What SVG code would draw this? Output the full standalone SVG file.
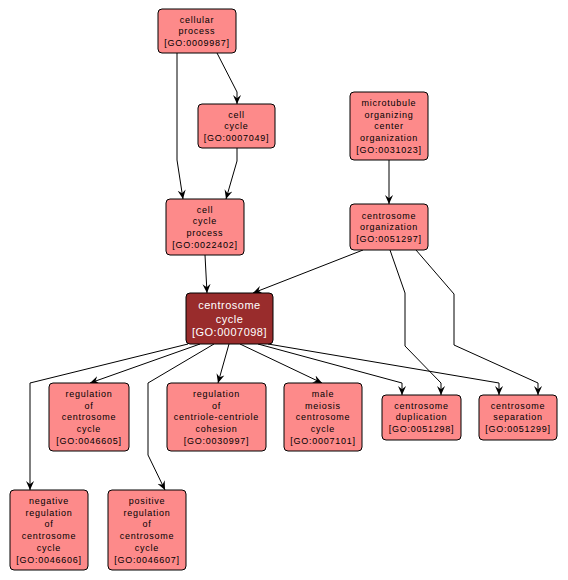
<svg xmlns="http://www.w3.org/2000/svg" width="568" height="580" viewBox="0 0 568 580">
<style>
.n rect{fill:#fd8a8a;stroke:#000;stroke-width:1}
.n text{font-family:"Liberation Sans",Arial,sans-serif;font-size:9px;letter-spacing:0.75px;fill:#000;text-anchor:middle}
#GO0007098 rect{fill:#992c2c}
#GO0007098 text{font-size:11px;letter-spacing:0.5px;fill:#fff}
.e path{fill:none;stroke:#000;stroke-width:1;marker-end:url(#ah)}
</style>
<defs>
<marker id="ah" viewBox="0 0 10 10" refX="10" refY="5" markerWidth="9" markerHeight="9" markerUnits="userSpaceOnUse" orient="auto">
<path d="M0,0.5 L10,5 L0,9.5 L3.5,5 z" fill="#000"/>
</marker>
</defs>
<rect width="568" height="580" fill="#fff"/>
<g class="e" id="edges">
<path d="M217,53 L237,92 L237,104"/>
<path d="M177,53 L177,160 L183,199"/>
<path d="M237,148 L237,161 L226,199"/>
<path d="M389,160 L389,204"/>
<path d="M205,255 L207,293"/>
<path d="M363,250 L253,293"/>
<path d="M390,250 L405,293 L405,346 L441,383 L441,395"/>
<path d="M416,250 L454,294 L454,345 L538,383 L538,395"/>
<path d="M188,344 L30,383 L30,490"/>
<path d="M200,344 L90,383"/>
<path d="M214,344 L148,383 L148,455 L165,490"/>
<path d="M229,344 L218,383"/>
<path d="M240,344 L322,383"/>
<path d="M258,344 L402,383 L402,395"/>
<path d="M268,344 L499,383 L499,395"/>
</g>
<g class="n" id="GO0009987"><rect x="158" y="9" width="78" height="44" rx="4"/><text y="22.5"><tspan x="197">cellular</tspan><tspan x="197" dy="11.8">process</tspan><tspan x="197" dy="11.8">[GO:0009987]</tspan></text></g>
<g class="n" id="GO0007049"><rect x="198" y="104" width="77" height="44" rx="4"/><text y="117.5"><tspan x="236.5">cell</tspan><tspan x="236.5" dy="11.8">cycle</tspan><tspan x="236.5" dy="11.8">[GO:0007049]</tspan></text></g>
<g class="n" id="GO0031023"><rect x="350" y="92" width="78" height="68" rx="4"/><text y="105.7"><tspan x="389">microtubule</tspan><tspan x="389" dy="11.8">organizing</tspan><tspan x="389" dy="11.8">center</tspan><tspan x="389" dy="11.8">organization</tspan><tspan x="389" dy="11.8">[GO:0031023]</tspan></text></g>
<g class="n" id="GO0051297"><rect x="350" y="204" width="78" height="46" rx="4"/><text y="218.5"><tspan x="389">centrosome</tspan><tspan x="389" dy="11.8">organization</tspan><tspan x="389" dy="11.8">[GO:0051297]</tspan></text></g>
<g class="n" id="GO0022402"><rect x="166" y="199" width="78" height="56" rx="4"/><text y="212.6"><tspan x="205">cell</tspan><tspan x="205" dy="11.8">cycle</tspan><tspan x="205" dy="11.8">process</tspan><tspan x="205" dy="11.8">[GO:0022402]</tspan></text></g>
<g class="n" id="GO0007098"><rect x="186" y="293" width="87" height="51" rx="4"/><text y="308.9"><tspan x="229.5">centrosome</tspan><tspan x="229.5" dy="13.6">cycle</tspan><tspan x="229.5" dy="13.6">[GO:0007098]</tspan></text></g>
<g class="n" id="GO0046605"><rect x="49" y="383" width="80" height="68" rx="4"/><text y="396.7"><tspan x="89">regulation</tspan><tspan x="89" dy="11.8">of</tspan><tspan x="89" dy="11.8">centrosome</tspan><tspan x="89" dy="11.8">cycle</tspan><tspan x="89" dy="11.8">[GO:0046605]</tspan></text></g>
<g class="n" id="GO0030997"><rect x="167" y="383" width="99" height="68" rx="4"/><text y="396.7"><tspan x="216.5">regulation</tspan><tspan x="216.5" dy="11.8">of</tspan><tspan x="216.5" dy="11.8">centriole-centriole</tspan><tspan x="216.5" dy="11.8">cohesion</tspan><tspan x="216.5" dy="11.8">[GO:0030997]</tspan></text></g>
<g class="n" id="GO0007101"><rect x="284" y="383" width="78" height="68" rx="4"/><text y="396.7"><tspan x="323">male</tspan><tspan x="323" dy="11.8">meiosis</tspan><tspan x="323" dy="11.8">centrosome</tspan><tspan x="323" dy="11.8">cycle</tspan><tspan x="323" dy="11.8">[GO:0007101]</tspan></text></g>
<g class="n" id="GO0051298"><rect x="382" y="395" width="79" height="45" rx="4"/><text y="408.5"><tspan x="421.5">centrosome</tspan><tspan x="421.5" dy="11.8">duplication</tspan><tspan x="421.5" dy="11.8">[GO:0051298]</tspan></text></g>
<g class="n" id="GO0051299"><rect x="479" y="395" width="78" height="45" rx="4"/><text y="408.5"><tspan x="518">centrosome</tspan><tspan x="518" dy="11.8">separation</tspan><tspan x="518" dy="11.8">[GO:0051299]</tspan></text></g>
<g class="n" id="GO0046606"><rect x="10" y="490" width="78" height="80" rx="4"/><text y="503.8"><tspan x="49">negative</tspan><tspan x="49" dy="11.8">regulation</tspan><tspan x="49" dy="11.8">of</tspan><tspan x="49" dy="11.8">centrosome</tspan><tspan x="49" dy="11.8">cycle</tspan><tspan x="49" dy="11.8">[GO:0046606]</tspan></text></g>
<g class="n" id="GO0046607"><rect x="108" y="490" width="78" height="80" rx="4"/><text y="503.8"><tspan x="147">positive</tspan><tspan x="147" dy="11.8">regulation</tspan><tspan x="147" dy="11.8">of</tspan><tspan x="147" dy="11.8">centrosome</tspan><tspan x="147" dy="11.8">cycle</tspan><tspan x="147" dy="11.8">[GO:0046607]</tspan></text></g>
</svg>
